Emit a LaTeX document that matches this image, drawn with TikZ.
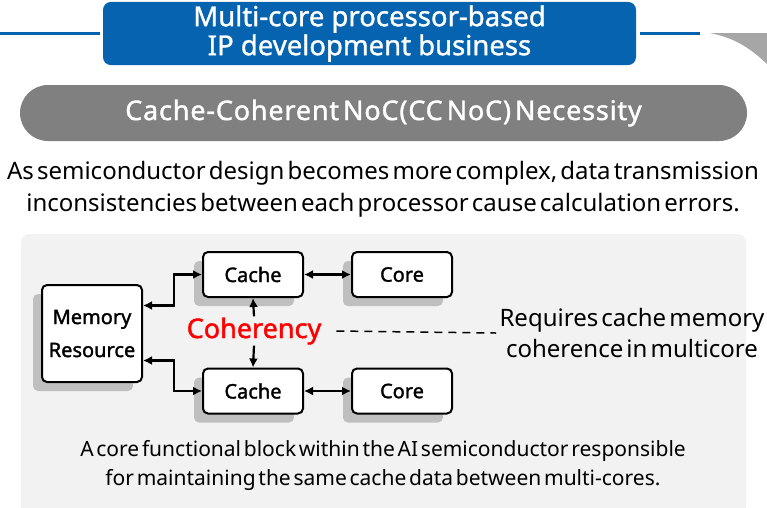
\documentclass[tikz,border=0pt]{standalone}
\usepackage{fontspec}
\setmainfont{Noto Sans}[WordSpace=0.5]
\newfontfamily\boldish{Noto Sans}[FakeBold=1.6, WordSpace=0.5]
\newfontfamily\bannerfont{Noto Sans}[FakeBold=1.2]
\newfontfamily\barfont{Noto Sans}[FakeBold=1.4, WordSpace=0.5, LetterSpace=3]
\usetikzlibrary{arrows.meta, positioning, shadows}
\definecolor{bannerblue}{RGB}{5, 99, 176}
\definecolor{bargray}{RGB}{128, 128, 128}
\definecolor{panelgray}{RGB}{242, 242, 242}
\definecolor{shadowgray}{RGB}{191, 191, 191}
\definecolor{wedgegray}{RGB}{166, 166, 166}
\definecolor{cohred}{RGB}{255, 0, 0}
\tikzset{
    blockbox/.style={rectangle, draw=black, fill=white, line width=2pt, minimum width=100pt, minimum height=45pt, align=center, rounded corners=5pt, font=\boldish\fontsize{20}{33}\selectfont, drop shadow={shadow xshift=-9pt, shadow yshift=-9pt, fill=shadowgray, opacity=1}},
    biarrow/.style={{Latex[length=9pt,width=9pt]}-{Latex[length=9pt,width=9pt]}, line width=2.2pt},
    uniarrow/.style={-{Latex[length=9pt,width=9pt]}, line width=2.2pt},
    bodytext/.style={align=center, font=\fontsize{24}{32}\selectfont}
}
\begin{document}
\begin{tikzpicture}[x=1pt, y=-1pt]
            \useasboundingbox (0,0) rectangle (767,507);

            % header banner
            \draw [bannerblue, line width=3pt] (0,33) -- (100,33);
            \draw [bannerblue, line width=3pt] (640,33) -- (700,33);
            \fill [wedgegray] (710,33) -- (767,33) -- (767,64) .. controls (750,48) and (735,38) .. cycle;
            \node (banner) [rectangle, fill=bannerblue, text=white, rounded corners=8pt, minimum width=533pt, minimum height=55pt, align=center, font=\bannerfont\fontsize{27.5}{29}\selectfont] at (369.5,33.5) {Multi-core processor-based \\ IP development business};

            % necessity bar
            \node (necessity) [rectangle, fill=bargray, text=white, rounded corners=28pt, minimum width=727pt, minimum height=56pt, font=\barfont\fontsize{27}{30}\selectfont] at (383.5,113) {Cache-Coherent NoC(CC NoC) Necessity};

            \node (intro) [bodytext] at (383,189) {As semiconductor design becomes more complex, data transmission \\ inconsistencies between each processor cause calculation errors.};

            % diagram panel
            \fill [panelgray, rounded corners=8pt] (21,234) rectangle (746,515);

            \node (mem) [blockbox, minimum height=97pt, text width=92pt] at (92,333.5) {Memory \\ Resource};
            \node (ctop) [blockbox] at (253,274.5) {Cache};
            \node (coretop) [blockbox] at (402,274.5) {Core};
            \node (cbot) [blockbox] at (253,391) {Cache};
            \node (corebot) [blockbox] at (402,391) {Core};
            \node (coh) [text=cohred, inner sep=1pt, font=\boldish\fontsize{27}{30}\selectfont] at (254,331) {Coherency};
            \node (req) [bodytext, font=\fontsize{24}{31}\selectfont] at (632,333) {Requires cache memory \\ coherence in multicore};

            \draw [biarrow] ([yshift=28pt]mem.east) -- ++(31,0) |- (ctop.west);
            \draw [biarrow] ([yshift=-27pt]mem.east) -- ++(31,0) |- (cbot.west);
            \draw [biarrow] (ctop) -- (coretop);
            \draw [biarrow] (cbot) -- (corebot);
            \draw [uniarrow] (coh.north) -- (ctop.south);
            \draw [uniarrow] (coh.south) -- (cbot.north);
            \draw [line width=1.5pt, dash pattern=on 8pt off 6pt] ([xshift=14pt]coh.east) -- (req.west);

            \node (summary) [bodytext, font=\fontsize{21}{29}\selectfont] at (383,465) {A core functional block within the AI semiconductor responsible \\ for maintaining the same cache data between multi-cores.};
        \end{tikzpicture}
\end{document}
